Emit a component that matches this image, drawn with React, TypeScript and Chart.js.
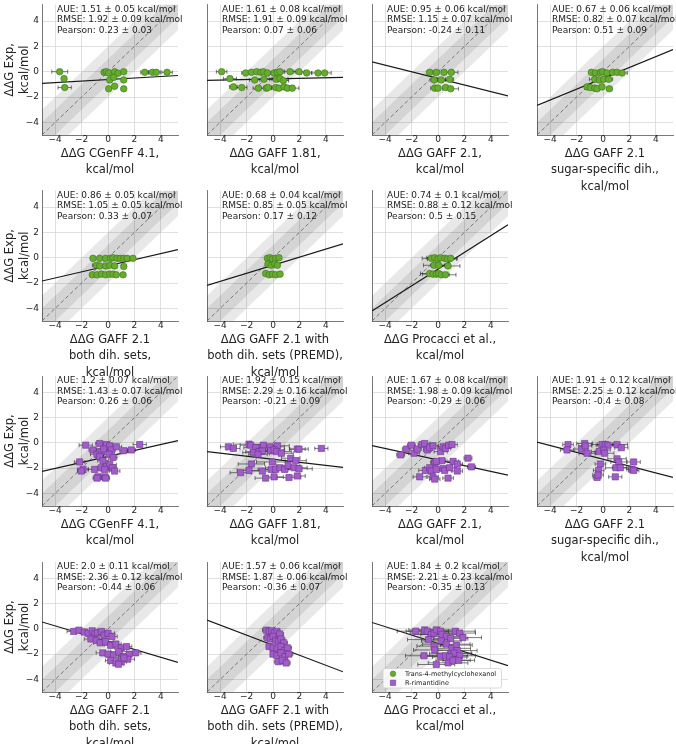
import React, { useEffect, useRef } from "react";
import { Chart, registerables } from "chart.js";

Chart.register(...registerables);

// ---------- shared axis data ----------
const axisLimits = [-5, 5.3];
const tickValues = [-4, -2, 0, 2, 4];
const bandHalfWidths = [1, 2];
const yTitleLines = ["ΔΔG Exp,", "kcal/mol"];
const legendLabels = ["Trans-4-methylcyclohexanol", "R-rimantidine"];

// ---------- x-axis titles ----------
const titleCgenff = ["ΔΔG CGenFF 4.1,", "kcal/mol"];
const titleGaff181 = ["ΔΔG GAFF 1.81,", "kcal/mol"];
const titleGaff21 = ["ΔΔG GAFF 2.1,", "kcal/mol"];
const titleSugar = ["ΔΔG GAFF 2.1", "sugar-specific dih.,", "kcal/mol"];
const titleBoth = ["ΔΔG GAFF 2.1", "both dih. sets,", "kcal/mol"];
const titlePremd = ["ΔΔG GAFF 2.1 with", "both dih. sets (PREMD),", "kcal/mol"];
const titleProcacci = ["ΔΔG Procacci et al.,", "kcal/mol"];

// ---------- statistics (panel order: rows left→right) ----------
const aueText = ["1.51 ± 0.05", "1.61 ± 0.08", "0.95 ± 0.06", "0.67 ± 0.06", "0.86 ± 0.05", "0.68 ± 0.04", "0.74 ± 0.1", "1.2 ± 0.07", "1.92 ± 0.15", "1.67 ± 0.08", "1.91 ± 0.12", "2.0 ± 0.11", "1.57 ± 0.06", "1.84 ± 0.2"];
const rmseText = ["1.92 ± 0.09", "1.91 ± 0.09", "1.15 ± 0.07", "0.82 ± 0.07", "1.05 ± 0.05", "0.85 ± 0.05", "0.88 ± 0.12", "1.43 ± 0.07", "2.29 ± 0.16", "1.98 ± 0.09", "2.25 ± 0.12", "2.36 ± 0.12", "1.87 ± 0.06", "2.21 ± 0.23"];
const pearsonText = ["0.23 ± 0.03", "0.07 ± 0.06", "-0.24 ± 0.11", "0.51 ± 0.09", "0.33 ± 0.07", "0.17 ± 0.12", "0.5 ± 0.15", "0.26 ± 0.06", "-0.21 ± 0.09", "-0.29 ± 0.06", "-0.4 ± 0.08", "-0.44 ± 0.06", "-0.36 ± 0.07", "-0.35 ± 0.13"];

// fit line values at the left (x=-5) and right (x=5.3) limits
const fitLeftY = [-0.92, -0.69, 0.77, -2.66, -1.84, -2.19, -4.2, -2.25, -0.69, -0.22, 0.07, 0.55, 0.7, 0.51];
const fitRightY = [-0.3, -0.45, -1.91, 1.75, 0.64, 1.09, 2.6, 0.18, -1.94, -2.55, -2.73, -2.65, -3.4, -2.91];

// ---------- Trans-4-methylcyclohexanol (green) ----------
const cgenffGreenX = [-3.66, -0.3, -0.13, 0.05, 0.5, 0.76, 1.19, 2.78, 3.36, 3.66, 4.47, -3.33, 0.13, 0.43, 1.19, -3.28, 0.05, 0.5, 1.19];
const cgenffGreenY = [0.0, -0.05, 0.0, -0.1, 0.0, -0.12, 0.0, -0.05, -0.05, -0.05, -0.05, -0.55, -0.65, -0.45, -0.65, -1.25, -1.35, -1.15, -1.35];
const cgenffGreenErr = [0.6, 0.1, 0.1, 0.1, 0.1, 0.1, 0.1, 0.3, 0.3, 0.3, 0.4, 0.1, 0.1, 0.1, 0.1, 0.5, 0.1, 0.1, 0.1];

const gaff181GreenX = [-3.89, -2.07, -1.64, -1.24, -0.93, -0.73, -0.43, 0.08, 0.33, 0.53, 1.29, 1.97, 2.55, 3.41, 3.91, -3.26, -1.39, -0.68, 0.25, 0.53, 0.78, -3.0, -2.37, -1.11, -0.5, -0.38, 0.2, 0.45, 0.83, 1.09, 1.46];
const gaff181GreenY = [0, -0.1, -0.05, 0, -0.05, 0, -0.1, -0.1, -0.05, 0, 0, 0, -0.1, -0.1, -0.1, -0.55, -0.65, -0.6, -0.6, -0.55, -0.7, -1.2, -1.25, -1.3, -1.3, -1.25, -1.25, -1.3, -1.2, -1.3, -1.3];
const gaff181GreenErr = [0.4, 0.3, 0.5, 0.3, 0.3, 0.4, 0.5, 0.3, 0.3, 0.3, 0.4, 0.4, 0.4, 0.5, 0.5, 0.5, 0.4, 0.6, 0.5, 0.6, 0.4, 0.3, 0.4, 0.4, 0.4, 0.3, 0.3, 0.3, 0.4, 0.4, 0.5];

const gaff21GreenX = [-0.63, -0.13, 0.45, 1.01, -0.3, 0.25, 0.88, -0.25, 0.0, 0.58, 0.96];
const gaff21GreenY = [-0.05, -0.05, -0.05, -0.05, -0.65, -0.65, -0.6, -1.3, -1.3, -1.25, -1.35];
const gaff21GreenErr = [0.2, 0.2, 0.2, 0.5, 0.3, 0.3, 0.3, 0.3, 0.2, 0.2, 0.6];

const sugarGreenX = [-0.88, -0.58, -0.2, -0.03, 0.3, 0.73, 1.06, 1.44, -0.63, -0.28, 0.05, 0.43, -1.21, -0.96, -0.63, -0.45, -0.08, 0.48];
const sugarGreenY = [-0.05, -0.1, -0.05, 0, -0.1, -0.05, -0.05, -0.1, -0.6, -0.65, -0.6, -0.6, -1.2, -1.25, -1.3, -1.35, -1.2, -1.35];
const sugarGreenErr = [0.1, 0.1, 0.2, 0.2, 0.2, 0.2, 0.3, 0.4, 0.4, 0.3, 0.3, 0.3, 0.2, 0.3, 0.3, 0.2, 0.2, 0.2];

const bothGreenX = [-1.14, -0.63, -0.18, 0.2, 0.38, 0.68, 0.93, 1.19, 1.44, 1.89, -0.88, -0.63, -0.18, 0.13, 0.5, 1.19, -1.19, -0.83, -0.5, -0.18, 0.13, 0.38, 0.63, 1.14];
const bothGreenY = [-0.05, -0.05, -0.05, -0.05, 0.0, -0.05, -0.05, -0.05, -0.05, -0.05, -0.6, -0.65, -0.65, -0.6, -0.65, -0.7, -1.35, -1.35, -1.3, -1.35, -1.3, -1.3, -1.35, -1.35];
const bothGreenErr = [0.1, 0.1, 0.1, 0.1, 0.1, 0.1, 0.1, 0.1, 0.1, 0.1, 0.3, 0.1, 0.1, 0.1, 0.1, 0.1, 0.1, 0.1, 0.1, 0.1, 0.1, 0.1, 0.1, 0.1];

const premdGreenX = [-0.43, -0.23, -0.05, 0.2, 0.45, -0.38, -0.13, 0.13, 0.33, -0.56, -0.3, -0.05, 0.2, 0.53];
const premdGreenY = [-0.05, 0, -0.1, -0.05, 0, -0.5, -0.6, -0.5, -0.6, -1.25, -1.35, -1.3, -1.35, -1.3];
const premdGreenErr = [0.1, 0.1, 0.1, 0.1, 0.1, 0.1, 0.1, 0.1, 0.1, 0.1, 0.1, 0.1, 0.1, 0.1];

const procacciGreenX = [-0.5, -0.25, 0, 0.2, 0.5, 0.71, 0.96, -0.3, 0.05, 0.76, -0.63, -0.38, -0.13, 0.05, 0.25, 0.56];
const procacciGreenY = [-0.05, 0, -0.1, 0, -0.05, -0.1, -0.05, -0.6, -0.6, -0.65, -1.25, -1.3, -1.3, -1.25, -1.35, -1.35];
const procacciGreenErr = [0.7, 0.6, 0.8, 0.5, 0.6, 0.7, 0.5, 0.8, 0.6, 0.9, 0.7, 0.8, 0.6, 0.7, 0.6, 0.8];

// ---------- R-rimantidine (purple) ----------
const cgenffPurpleX = [-1.69, -1.14, -0.63, -0.83, -0.51, -0.63, -0.13, 0.13, -0.33, 0.25, 0.08, 0.38, 0.63, 1.19, 1.77, 2.4, -2.15, -1.89, -2.02, -1.01, -0.51, -0.38, -0.13, 0.13, 0.33, 0.5, -0.25, -0.76, -0.83, -0.25, -0.18];
const cgenffPurpleY = [-0.18, -0.56, -0.05, -0.9, -0.69, -1.08, -0.13, -0.23, -0.49, -0.56, -0.9, -1.15, -0.31, -0.62, -0.56, -0.13, -1.51, -2.1, -2.23, -2.1, -1.97, -1.41, -1.85, -1.72, -1.97, -2.23, -2.1, -2.69, -2.79, -2.69, -2.79];
const cgenffPurpleErr = [0.5, 0.3, 0.3, 0.5, 0.4, 0.3, 0.3, 0.3, 0.6, 0.3, 0.4, 0.3, 0.4, 0.3, 0.3, 0.5, 0.4, 0.4, 0.3, 0.5, 0.3, 0.4, 0.3, 0.5, 0.3, 0.4, 0.3, 0.3, 0.3, 0.3, 0.3];

const gaff181PurpleX = [-3.38, -3.0, -1.82, -1.69, -1.31, -0.73, -0.23, 0.33, -1.49, -1.06, -0.81, -1.14, -0.18, 0.08, 0.28, 0.63, 1.84, 1.97, 3.66, -1.64, -2.45, -1.82, -0.81, -0.05, -0.13, 0.2, 0.53, 0.88, 1.14, 1.34, 1.59, 1.72, 1.97, -0.56, 0.08, 1.21, 1.84];
const gaff181PurpleY = [-0.31, -0.44, -0.1, -0.18, -0.38, -0.18, -0.31, -0.23, -0.77, -0.69, -0.64, -0.9, -0.62, -0.56, -0.69, -0.82, -0.49, -0.49, -0.44, -1.67, -2.36, -2.18, -2.23, -1.51, -2.1, -2.1, -1.97, -2.1, -1.79, -1.21, -1.97, -1.41, -2.05, -2.79, -2.69, -2.74, -2.62];
const gaff181PurpleErr = [0.6, 0.5, 1.2, 0.8, 0.9, 1.0, 1.1, 0.9, 0.8, 1.0, 0.9, 0.7, 1.0, 0.8, 1.1, 0.9, 0.6, 0.7, 0.5, 1.0, 0.8, 0.9, 1.0, 1.2, 1.0, 1.0, 1.1, 0.8, 0.9, 0.7, 1.0, 0.8, 1.0, 0.8, 0.7, 0.9, 0.6];

const gaff21PurpleX = [-2.83, -2.4, -2.02, -1.82, -1.57, -1.21, -1.01, -0.81, -0.63, -0.38, 0.2, 0.38, 0.56, 0.81, 1.06, 0.3, -0.25, -0.13, 1.14, 1.46, 2.27, 2.53, -0.96, -0.63, -0.51, -0.13, 0.38, 0.51, 0.88, 1.46, -1.39, -0.38, -0.25, 0.76];
const gaff21PurpleY = [-0.95, -0.49, -0.18, -0.82, -0.49, -0.13, -0.05, -0.56, -0.38, -0.23, -0.69, -0.31, -0.44, -0.18, -0.13, -1.41, -1.59, -1.46, -1.46, -1.67, -1.21, -1.9, -2.18, -1.97, -2.23, -2.1, -2.03, -2.18, -1.97, -2.23, -2.69, -2.69, -2.87, -2.79];
const gaff21PurpleErr = [0.3, 0.3, 0.3, 0.4, 0.3, 0.3, 0.4, 0.3, 0.4, 0.4, 0.5, 0.4, 0.4, 0.4, 0.4, 0.3, 0.3, 0.4, 0.4, 0.4, 0.3, 0.3, 0.5, 0.4, 0.5, 0.5, 0.4, 0.5, 0.5, 0.4, 0.5, 0.4, 0.4, 0.4];

const sugarPurpleX = [-2.65, -2.73, -1.64, -1.39, -1.34, -1.21, -0.08, 0.18, 0.38, -0.28, 0.05, 0.13, 1.06, 1.39, -0.2, -0.33, -0.45, -0.38, 1.06, 1.19, 0.98, 1.31, 2.32, 2.2, 2.32, 0.93];
const sugarPurpleY = [-0.13, -0.56, -0.49, -0.05, -0.23, -0.82, -0.13, -0.13, -0.18, -0.69, -0.56, -0.82, -0.13, -0.38, -1.67, -2.18, -2.74, -2.54, -1.26, -1.51, -1.97, -1.97, -1.51, -2.1, -2.18, -2.69];
const sugarPurpleErr = [0.4, 0.5, 0.5, 0.6, 0.5, 0.6, 0.8, 0.6, 0.9, 0.6, 0.5, 0.7, 0.8, 0.5, 0.4, 0.4, 0.3, 0.4, 0.7, 0.6, 0.8, 0.6, 0.5, 0.4, 0.4, 0.5];

const bothPurpleX = [-2.6, -2.2, -1.8, -1.5, -1.2, -1.0, -0.8, -0.5, -0.3, 0.0, 0.3, -1.3, -0.9, -0.6, -0.2, 0.2, 0.6, 1.0, 1.4, -0.4, 0.0, 0.4, 0.8, 1.2, 1.6, 2.1, 0.2, 0.6, 1.0, 1.5, 0.8, 1.2];
const bothPurpleY = [-0.2, -0.1, -0.25, -0.35, -0.15, -0.4, -0.3, -0.2, -0.5, -0.35, -0.6, -0.8, -0.9, -1.1, -1.0, -1.3, -1.2, -1.5, -1.4, -1.9, -2.0, -2.1, -1.8, -2.2, -2.0, -1.9, -2.5, -2.7, -2.6, -2.4, -2.8, -2.3];
const bothPurpleErr = [0.5, 0.4, 0.6, 0.5, 0.4, 0.5, 0.6, 0.4, 0.5, 0.5, 0.4, 0.5, 0.4, 0.5, 0.6, 0.5, 0.4, 0.5, 0.4, 0.5, 0.4, 0.5, 0.6, 0.4, 0.5, 0.4, 0.4, 0.5, 0.4, 0.5, 0.4, 0.5];

const premdPurpleX = [-0.5, -0.3, -0.1, 0.1, 0.3, 0.5, -0.4, -0.2, 0.0, 0.2, 0.4, 0.6, 0.8, -0.3, 0.0, 0.3, 0.6, 0.9, 1.1, 0.0, 0.3, 0.6, 0.9, 1.2, 0.4, 0.7, 1.0];
const premdPurpleY = [-0.1, -0.2, -0.15, -0.3, -0.2, -0.4, -0.7, -0.8, -0.6, -0.9, -1.0, -0.8, -1.1, -1.4, -1.5, -1.6, -1.4, -1.7, -1.5, -2.0, -2.1, -1.9, -2.2, -2.0, -2.6, -2.5, -2.7];
const premdPurpleErr = [0.3, 0.3, 0.2, 0.3, 0.2, 0.3, 0.3, 0.2, 0.3, 0.3, 0.2, 0.3, 0.3, 0.2, 0.3, 0.3, 0.2, 0.3, 0.3, 0.2, 0.3, 0.3, 0.2, 0.3, 0.3, 0.2, 0.3];

const procacciPurpleX = [-1.69, -1.01, -0.81, -0.51, -0.3, -0.13, 0.2, 0.3, 0.63, 0.96, 1.31, 1.64, 1.89, -0.71, -0.3, 0.25, 0.63, 1.06, 1.39, 1.46, 0.96, 1.21, -1.06, -0.25, 0.2, 0.56, 0.88, 1.64, -0.13, 0.76, 1.14, 1.57];
const procacciPurpleY = [-0.18, -0.08, -0.18, -0.44, -0.33, -0.08, -0.18, -0.44, -0.59, -0.77, -0.18, -0.33, -0.69, -0.85, -1.36, -0.95, -1.21, -1.54, -1.28, -1.72, -1.97, -1.92, -2.13, -1.67, -2.18, -2.13, -2.23, -2.13, -2.82, -2.69, -2.49, -2.49];
const procacciPurpleErr = [1.4, 1.2, 1.6, 1.3, 1.8, 1.5, 1.2, 1.6, 1.4, 1.3, 1.5, 1.2, 1.4, 1.6, 1.3, 1.5, 1.8, 1.4, 1.2, 1.5, 1.6, 1.3, 1.4, 1.6, 1.5, 1.7, 1.3, 1.2, 1.4, 1.5, 1.3, 1.2];

// ---------- styling / layout constants ----------
const FONT = "'DejaVu Sans', sans-serif";
const TEXT = "#222222";
const GREEN_FILL = "#66ac2e";
const GREEN_EDGE = "#3c7419";
const PURPLE_FILL = "#a15cc8";
const PURPLE_EDGE = "#6a3590";
const BAND = "rgba(0,0,0,0.09)";
const GRID = "#d8d8d8";
const SPINE = "#555555";
const ERRBAR = "rgba(45,45,45,0.8)";

const COL_LEFT = [42, 207, 372, 537];
const ROW_TOP = [1, 187, 372, 558];
const PLOT_W = 136;
const PLOT_H = 134;
const Y_AXIS_W = 42;
const RIGHT_PAD = 30;
const CANVAS_H = 200;
const X_AXIS_H = CANVAS_H - 1 - PLOT_H;

type Kind = "green" | "purple";
interface PanelSpec {
  idx: number;
  row: number;
  col: number;
  xs: number[];
  ys: number[];
  errs: number[];
  kind: Kind;
  xTitle: string[];
  legend: boolean;
}

const panels: PanelSpec[] = [
  { idx: 0, row: 0, col: 0, xs: cgenffGreenX, ys: cgenffGreenY, errs: cgenffGreenErr, kind: "green", xTitle: titleCgenff, legend: false },
  { idx: 1, row: 0, col: 1, xs: gaff181GreenX, ys: gaff181GreenY, errs: gaff181GreenErr, kind: "green", xTitle: titleGaff181, legend: false },
  { idx: 2, row: 0, col: 2, xs: gaff21GreenX, ys: gaff21GreenY, errs: gaff21GreenErr, kind: "green", xTitle: titleGaff21, legend: false },
  { idx: 3, row: 0, col: 3, xs: sugarGreenX, ys: sugarGreenY, errs: sugarGreenErr, kind: "green", xTitle: titleSugar, legend: false },
  { idx: 4, row: 1, col: 0, xs: bothGreenX, ys: bothGreenY, errs: bothGreenErr, kind: "green", xTitle: titleBoth, legend: false },
  { idx: 5, row: 1, col: 1, xs: premdGreenX, ys: premdGreenY, errs: premdGreenErr, kind: "green", xTitle: titlePremd, legend: false },
  { idx: 6, row: 1, col: 2, xs: procacciGreenX, ys: procacciGreenY, errs: procacciGreenErr, kind: "green", xTitle: titleProcacci, legend: false },
  { idx: 7, row: 2, col: 0, xs: cgenffPurpleX, ys: cgenffPurpleY, errs: cgenffPurpleErr, kind: "purple", xTitle: titleCgenff, legend: false },
  { idx: 8, row: 2, col: 1, xs: gaff181PurpleX, ys: gaff181PurpleY, errs: gaff181PurpleErr, kind: "purple", xTitle: titleGaff181, legend: false },
  { idx: 9, row: 2, col: 2, xs: gaff21PurpleX, ys: gaff21PurpleY, errs: gaff21PurpleErr, kind: "purple", xTitle: titleGaff21, legend: false },
  { idx: 10, row: 2, col: 3, xs: sugarPurpleX, ys: sugarPurpleY, errs: sugarPurpleErr, kind: "purple", xTitle: titleSugar, legend: false },
  { idx: 11, row: 3, col: 0, xs: bothPurpleX, ys: bothPurpleY, errs: bothPurpleErr, kind: "purple", xTitle: titleBoth, legend: false },
  { idx: 12, row: 3, col: 1, xs: premdPurpleX, ys: premdPurpleY, errs: premdPurpleErr, kind: "purple", xTitle: titlePremd, legend: false },
  { idx: 13, row: 3, col: 2, xs: procacciPurpleX, ys: procacciPurpleY, errs: procacciPurpleErr, kind: "purple", xTitle: titleProcacci, legend: true },
];

const fmtTick = (v: number) => (v < 0 ? "\u2212" + Math.abs(v) : String(v));

const errorBarPlugin = {
  id: "xErrorBars",
  beforeDatasetDraw(chart: any, args: any) {
    const ds = chart.data.datasets[args.index];
    if (!ds.xErr) return;
    const { ctx } = chart;
    const xs = chart.scales.x;
    const ys = chart.scales.y;
    ctx.save();
    ctx.strokeStyle = ERRBAR;
    ctx.lineWidth = 0.8;
    ds.data.forEach((p: any, i: number) => {
      const e = ds.xErr[i];
      if (!e) return;
      const x1 = xs.getPixelForValue(p.x - e);
      const x2 = xs.getPixelForValue(p.x + e);
      const y = ys.getPixelForValue(p.y);
      ctx.beginPath();
      ctx.moveTo(x1, y);
      ctx.lineTo(x2, y);
      ctx.moveTo(x1, y - 2);
      ctx.lineTo(x1, y + 2);
      ctx.moveTo(x2, y - 2);
      ctx.lineTo(x2, y + 2);
      ctx.stroke();
    });
    ctx.restore();
  },
};

const statsPlugin = {
  id: "statsText",
  afterDatasetsDraw(chart: any, _args: any, opts: any) {
    if (!opts || !opts.lines) return;
    const { ctx, chartArea } = chart;
    ctx.save();
    ctx.font = `9px ${FONT}`;
    ctx.fillStyle = TEXT;
    ctx.textAlign = "left";
    ctx.textBaseline = "middle";
    opts.lines.forEach((t: string, i: number) => {
      ctx.fillText(t, chartArea.left + 15, chartArea.top + 5 + i * 10.5);
    });
    ctx.restore();
  },
};

const legendBoxPlugin = {
  id: "legendBox",
  afterDraw(chart: any, _args: any, opts: any) {
    if (!opts || !opts.show) return;
    const { ctx, chartArea } = chart;
    const left = chartArea.left + 11;
    const right = chartArea.left + 129.5;
    const bottom = chartArea.bottom - 4;
    const top = bottom - 19.5;
    ctx.save();
    ctx.beginPath();
    (ctx as any).roundRect(left, top, right - left, bottom - top, 2);
    ctx.fillStyle = "rgba(255,255,255,0.85)";
    ctx.fill();
    ctx.strokeStyle = "#d0d0d0";
    ctx.lineWidth = 0.8;
    ctx.stroke();
    const styles = [
      { style: "circle", fill: GREEN_FILL, edge: GREEN_EDGE, r: 2.8 },
      { style: "rect", fill: PURPLE_FILL, edge: PURPLE_EDGE, r: 3.8 },
    ];
    ctx.font = `6.5px ${FONT}`;
    ctx.textBaseline = "middle";
    ctx.textAlign = "left";
    legendLabels.forEach((lab, i) => {
      const cy = top + 5.3 + i * 9;
      const s = styles[i];
      ctx.fillStyle = s.fill;
      ctx.strokeStyle = s.edge;
      ctx.lineWidth = 0.5;
      ctx.beginPath();
      if (s.style === "circle") {
        ctx.arc(left + 10, cy, s.r, 0, Math.PI * 2);
      } else {
        const h = s.r * Math.SQRT1_2;
        ctx.rect(left + 10 - h, cy - h, 2 * h, 2 * h);
      }
      ctx.fill();
      ctx.stroke();
      ctx.fillStyle = TEXT;
      ctx.fillText(lab, left + 22, cy + 0.3);
    });
    ctx.restore();
  },
};

function Panel({ spec }: { spec: PanelSpec }) {
  const ref = useRef<HTMLCanvasElement>(null);
  useEffect(() => {
    const canvas = ref.current;
    if (!canvas) return;
    const [lo, hi] = axisLimits;
    const isGreen = spec.kind === "green";
    const band = (w: number) => [
      { x: lo, y: lo + w },
      { x: hi, y: hi + w },
    ];
    const [inner, outer] = bandHalfWidths;
    const nLines = spec.xTitle.length;
    const xTitleBottomPad = X_AXIS_H - 19 - 8.25 - 16.5 * (nLines - 1);
    const chart = new Chart(canvas, {
      type: "scatter",
      data: {
        datasets: [
          {
            label: spec.kind,
            data: spec.xs.map((x, i) => ({ x, y: spec.ys[i] })),
            xErr: spec.errs,
            pointStyle: isGreen ? "circle" : "rect",
            pointRadius: isGreen ? 3.3 : 4.4,
            backgroundColor: isGreen ? GREEN_FILL : PURPLE_FILL,
            borderColor: isGreen ? GREEN_EDGE : PURPLE_EDGE,
            borderWidth: 0.6,
            order: 0,
          } as any,
          {
            type: "line",
            data: [
              { x: lo, y: fitLeftY[spec.idx] },
              { x: hi, y: fitRightY[spec.idx] },
            ],
            borderColor: "#1a1a1a",
            borderWidth: 1.2,
            pointRadius: 0,
            fill: false,
            order: 1,
          },
          {
            type: "line",
            data: [
              { x: lo, y: lo },
              { x: hi, y: hi },
            ],
            borderColor: "#6e6e6e",
            borderWidth: 0.9,
            borderDash: [4, 2.5],
            pointRadius: 0,
            fill: false,
            order: 2,
          },
          {
            type: "line",
            data: band(inner),
            borderColor: "rgba(0,0,0,0)",
            borderWidth: 0,
            pointRadius: 0,
            backgroundColor: BAND,
            fill: "+1",
            order: 3,
          },
          {
            type: "line",
            data: band(-inner),
            borderColor: "rgba(0,0,0,0)",
            borderWidth: 0,
            pointRadius: 0,
            fill: false,
            order: 4,
          },
          {
            type: "line",
            data: band(outer),
            borderColor: "rgba(0,0,0,0)",
            borderWidth: 0,
            pointRadius: 0,
            backgroundColor: BAND,
            fill: "+1",
            order: 5,
          },
          {
            type: "line",
            data: band(-outer),
            borderColor: "rgba(0,0,0,0)",
            borderWidth: 0,
            pointRadius: 0,
            fill: false,
            order: 6,
          },
        ],
      },
      options: {
        animation: false,
        responsive: false,
        maintainAspectRatio: false,
        devicePixelRatio: 1,
        events: [],
        layout: { padding: { left: 0, top: 1, right: RIGHT_PAD, bottom: 0 } },
        plugins: {
          legend: { display: false },
          tooltip: { enabled: false },
          statsText: {
            lines: [
              `AUE: ${aueText[spec.idx]} kcal/mol`,
              `RMSE: ${rmseText[spec.idx]} kcal/mol`,
              `Pearson: ${pearsonText[spec.idx]}`,
            ],
          },
          legendBox: { show: spec.legend },
        } as any,
        scales: {
          x: {
            type: "linear",
            min: lo,
            max: hi,
            afterBuildTicks: (s: any) => {
              s.ticks = tickValues.map((v) => ({ value: v }));
            },
            afterFit: (s: any) => {
              s.height = X_AXIS_H;
              s.paddingLeft = 0;
              s.paddingRight = 0;
              s.paddingTop = 0;
              s.paddingBottom = 0;
            },
            grid: { color: GRID, lineWidth: 0.8, drawTicks: false },
            border: { display: true, color: SPINE, width: 0.8 },
            ticks: {
              autoSkip: false,
              maxRotation: 0,
              padding: 0,
              color: TEXT,
              font: { family: FONT, size: 9, lineHeight: 1 },
              callback: (v: any) => fmtTick(Number(v)),
            },
            title: {
              display: true,
              text: spec.xTitle,
              color: TEXT,
              font: { family: FONT, size: 11.5, lineHeight: "16.5px" as any },
              padding: { top: 0, bottom: xTitleBottomPad },
            },
          },
          y: {
            type: "linear",
            min: lo,
            max: hi,
            afterBuildTicks: (s: any) => {
              s.ticks = tickValues.map((v) => ({ value: v }));
            },
            afterFit: (s: any) => {
              s.width = Y_AXIS_W;
              s.paddingLeft = 0;
              s.paddingRight = 0;
              s.paddingTop = 0;
              s.paddingBottom = 0;
            },
            grid: { color: GRID, lineWidth: 0.8, drawTicks: false },
            border: { display: true, color: SPINE, width: 0.8 },
            ticks: {
              display: spec.col === 0,
              autoSkip: false,
              padding: 3,
              color: TEXT,
              font: { family: FONT, size: 9 },
              callback: (v: any) => fmtTick(Number(v)),
            },
            title: {
              display: spec.col === 0,
              text: yTitleLines,
              color: TEXT,
              font: { family: FONT, size: 11.5, lineHeight: "15.5px" as any },
              padding: { top: 2, bottom: 0 },
            },
          },
        },
      } as any,
      plugins: [errorBarPlugin, statsPlugin, legendBoxPlugin],
    });
    return () => chart.destroy();
  }, [spec]);

  const left = COL_LEFT[spec.col] - Y_AXIS_W;
  const top = ROW_TOP[spec.row] - 1;
  const width = Y_AXIS_W + PLOT_W + RIGHT_PAD;
  return (
    <canvas
      ref={ref}
      width={width}
      height={CANVAS_H}
      style={{ position: "absolute", left, top, width, height: CANVAS_H }}
    />
  );
}

export default function App() {
  return (
    <div
      style={{
        position: "absolute",
        left: 0,
        top: 0,
        width: 676,
        height: 744,
        background: "#ffffff",
        overflow: "hidden",
      }}
    >
      {panels.map((p) => (
        <Panel key={p.idx} spec={p} />
      ))}
    </div>
  );
}
